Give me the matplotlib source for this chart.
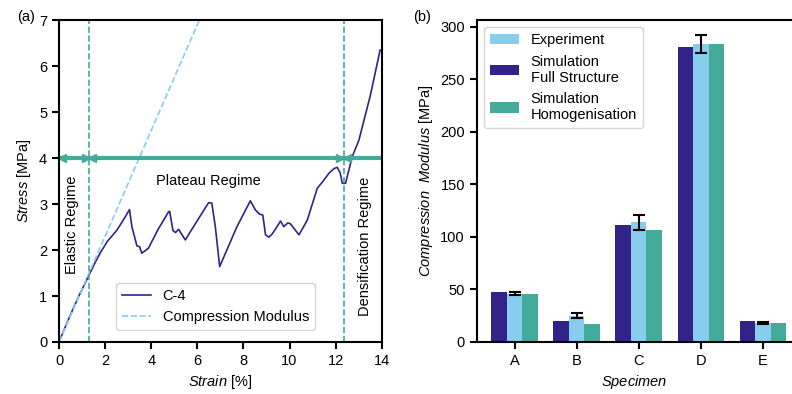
import matplotlib.pyplot as plt
import numpy as np

plt.rcParams['font.family'] = ['Liberation Sans', 'DejaVu Sans']
plt.rcParams['font.size'] = 10.5
plt.rcParams['mathtext.fontset'] = 'custom'
plt.rcParams['mathtext.it'] = 'Liberation Sans:italic'
plt.rcParams['mathtext.rm'] = 'Liberation Sans'
plt.rcParams['axes.linewidth'] = 1.5
plt.rcParams['xtick.major.width'] = 1.5
plt.rcParams['ytick.major.width'] = 1.5
plt.rcParams['xtick.major.size'] = 5
plt.rcParams['ytick.major.size'] = 5

PURPLE = '#332288'
CYAN = '#88CCEE'
TEAL = '#44AA99'

# (a) stress-strain curve of C-4
strain = [0, 0.3, 0.6, 0.9, 1.2, 1.5, 1.78, 2.1, 2.51, 2.8, 3.06, 3.16, 3.38, 3.5, 3.59,
          3.88, 4.3, 4.75, 4.8, 4.94, 5.05, 5.19, 5.3, 5.48, 5.7, 6.1, 6.49, 6.63, 6.78,
          6.97, 7.35, 7.72, 8.3, 8.52, 8.7, 8.84, 8.96, 9.1, 9.25, 9.46, 9.61, 9.75, 9.93,
          10.04, 10.41, 10.77, 11.2, 11.49, 11.71, 11.93, 12.07, 12.2, 12.29, 12.43,
          12.72, 13.01, 13.5, 13.93]
stress = [0, 0.36, 0.71, 1.04, 1.35, 1.66, 1.93, 2.19, 2.43, 2.66, 2.88, 2.51, 2.09, 2.07,
          1.93, 2.04, 2.45, 2.83, 2.84, 2.43, 2.38, 2.45, 2.36, 2.22, 2.40, 2.72, 3.03,
          3.02, 2.51, 1.64, 2.08, 2.51, 3.07, 2.87, 2.78, 2.76, 2.33, 2.28, 2.35, 2.51,
          2.63, 2.51, 2.59, 2.57, 2.33, 2.65, 3.34, 3.52, 3.67, 3.77, 3.80, 3.67, 3.45,
          3.45, 4.03, 4.39, 5.35, 6.35]
modulus_fit = 1.15  # MPa per %
elastic_end = 1.3
dens_start = 12.35
plateau_stress = 4.0

# (b) compression modulus per specimen
specimens = ['A', 'B', 'C', 'D', 'E']
experiment = [46, 25, 114, 284, 18]
experiment_err = [1.5, 2.5, 7, 8.5, 1]
sim_full = [48, 20, 111, 281, 20]
sim_homog = [45.5, 17, 106.5, 284, 18]

fig = plt.figure(figsize=(7.92, 3.94), dpi=100)
ax1 = fig.add_axes([0.0745, 0.132, 0.4075, 0.817])
ax2 = fig.add_axes([0.602, 0.132, 0.398, 0.817])

# panel a
ax1.plot(strain, stress, color=PURPLE, lw=1.2, label='C-4')
xs = np.array([0, 7 / modulus_fit])
ax1.plot(xs, modulus_fit * xs, color=CYAN, ls='--', lw=1.2, label='Compression Modulus')
ax1.axvline(elastic_end, color=TEAL, ls='--', lw=1.2)
ax1.axvline(dens_start, color=TEAL, ls='--', lw=1.2)
# regime arrows along the plateau stress
ax1.axhline(plateau_stress, color=TEAL, lw=3)
d = 0.14
ax1.plot([d, elastic_end + d, dens_start + d], [plateau_stress] * 3, ls='none',
         marker='<', ms=6, color=TEAL)
ax1.plot([elastic_end - d, dens_start - d], [plateau_stress] * 2, ls='none',
         marker='>', ms=6, color=TEAL)
ax1.text(0.55, 2.55, 'Elastic Regime', rotation=90, ha='center', va='center')
ax1.text(6.5, 3.5, 'Plateau Regime', ha='center', va='center')
ax1.text(13.27, 2.07, 'Densification Regime', rotation=90, ha='center', va='center')
ax1.set_xlim(0, 14)
ax1.set_ylim(0, 7)
ax1.set_xticks(range(0, 15, 2))
ax1.set_xlabel('$\\mathit{Strain}$ [%]')
ax1.set_ylabel('$\\mathit{Stress}$ [MPa]')
ax1.legend(loc='lower right', bbox_to_anchor=(0.815, 0.015))
fig.text(0.022, 0.975, '(a)', ha='left', va='top')

# panel b
x = np.arange(len(specimens))
w = 0.25
ax2.bar(x, experiment, w, color=CYAN, label='Experiment')
ax2.bar(x - w, sim_full, w, color=PURPLE, label='Simulation\nFull Structure')
ax2.bar(x + w, sim_homog, w, color=TEAL, label='Simulation\nHomogenisation')
ax2.errorbar(x, experiment, yerr=experiment_err, fmt='none', ecolor='black',
             elinewidth=1.5, capsize=4, capthick=1.5)
ax2.set_xticks(x)
ax2.set_xticklabels(specimens)
ax2.set_xlim(-0.61, 4.47)
ax2.set_ylim(0, 306.5)
ax2.spines['right'].set_visible(False)
ax2.set_xlabel('$\\mathit{Specimen}$')
ax2.set_ylabel('$\\mathit{Compression\\ \\ Modulus}$ [MPa]')
ax2.legend(loc='upper left')
fig.text(0.521, 0.975, '(b)', ha='left', va='top')

fig.savefig('out.png', dpi=100)
